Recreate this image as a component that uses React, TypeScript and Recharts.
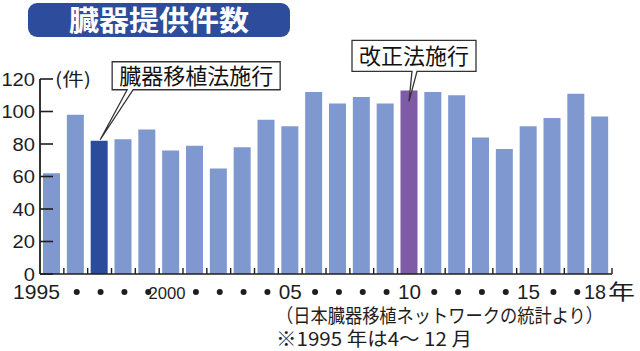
import React from 'react';
import { BarChart, Bar, XAxis, YAxis, Cell, LabelList } from 'recharts';

const years = [
  '1995', '1996', '1997', '1998', '1999', '2000', '2001', '2002', '2003', '2004', '2005', '2006',
  '2007', '2008', '2009', '2010', '2011', '2012', '2013', '2014', '2015', '2016', '2017', '2018',
];
const donations = [62, 98, 82, 83, 89, 76, 79, 65, 78, 95, 91, 112, 105, 109, 105, 113, 112, 110, 84, 77, 91, 96, 111, 97];
const yearLabels = [
  '1995', '•', '•', '•', '•', '2000', '•', '•', '•', '•', '05', '•',
  '•', '•', '•', '10', '•', '•', '•', '•', '15', '•', '•', '18',
];
const yTicks = [0, 20, 40, 60, 80, 100, 120];
const noteYears = ['1997', '2010'];
const noteTexts = ['臓器移植法施行', '改正法施行'];

const title = '臓器提供件数';
const unit = '(件)';
const source = '（日本臓器移植ネットワークの統計より）';
const footnote = '※1995 年は4〜 12 月';

const W = 640;
const H = 351;
const MARGIN = { top: 79, right: 28, bottom: 47, left: 0 };
const Y_W = 40;
const PLOT_W = W - MARGIN.left - MARGIN.right - Y_W;

const BAR = '#7f98cf';
const BAR_97 = '#2b4b9b';
const BAR_10 = '#7f5ba6';
const INK = '#1e1e1e';
const JP = '"Noto Sans CJK JP", "Noto Sans", sans-serif';
const NUM = '"Liberation Sans", Arial, sans-serif';

const rows = years.map((year, i) => ({ year, value: donations[i] }));

const barColor = (year: string) => (year === '1997' ? BAR_97 : year === '2010' ? BAR_10 : BAR);

// callout box geometry relative to bar centre / bar top
const CALLOUT: Record<string, any> = {
  '1997': { dx: 13, dy: -79, w: 168, h: 28, n1: 28, n2: 34, tx: 1, ty: -1 },
  '2010': { dx: -57, dy: -50, w: 124, h: 31, n1: 3, n2: 8, tx: 0, ty: 11 },
};

const YTick = (props: any) => {
  const { x, y, payload } = props;
  const s = String(payload.value);
  return (
    <g>
      <line x1={x + 5} x2={x + 18} y1={y} y2={y} stroke={INK} strokeWidth={1.6} />
      <text
        x={x}
        y={y + 6.5}
        textAnchor="end"
        fontFamily={NUM}
        fontSize={18}
        fill={INK}
        textLength={s.length * 11.2}
        lengthAdjust="spacingAndGlyphs"
      >
        {s}
      </text>
      {payload.value === 120 && (
        <text x={x + 20} y={y + 7} fontFamily={JP} fontSize={18} fill={INK} textLength={36} lengthAdjust="spacingAndGlyphs">
          {unit}
        </text>
      )}
    </g>
  );
};

const XTick = (props: any) => {
  const { x, y, payload } = props;
  const i = years.indexOf(String(payload.value));
  const label = yearLabels[i];
  const bw = PLOT_W / years.length;
  let mark: React.ReactNode = null;
  if (label === '•') {
    mark = <circle cx={x + 1} cy={y + 18} r={3} fill={INK} />;
  } else if (label === '1995') {
    mark = (
      <text x={x + 8} y={y + 25} textAnchor="end" fontFamily={NUM} fontSize={21} fill={INK} textLength={47} lengthAdjust="spacingAndGlyphs">
        {label}
      </text>
    );
  } else if (label === '2000') {
    mark = (
      <text x={x - 4} y={y + 25} textAnchor="middle" fontFamily={NUM} fontSize={17} fill={INK} textLength={37} lengthAdjust="spacingAndGlyphs">
        {label}
      </text>
    );
  } else if (label === '18') {
    mark = (
      <g>
        <text x={x - 5} y={y + 25} textAnchor="middle" fontFamily={NUM} fontSize={21} fill={INK} textLength={22} lengthAdjust="spacingAndGlyphs">
          {label}
        </text>
        <text x={x + 8} y={y + 25} fontFamily={JP} fontSize={21} fill={INK} textLength={27} lengthAdjust="spacingAndGlyphs">
          年
        </text>
      </g>
    );
  } else {
    mark = (
      <text x={x} y={y + 25} textAnchor="middle" fontFamily={NUM} fontSize={21} fill={INK} textLength={23} lengthAdjust="spacingAndGlyphs">
        {label}
      </text>
    );
  }
  return (
    <g>
      <line x1={x + bw / 2} x2={x + bw / 2} y1={y} y2={y - 6} stroke={INK} strokeWidth={1.4} />
      {mark}
    </g>
  );
};

const Callout = (props: any) => {
  const { x, y, width, index } = props;
  const year = years[index];
  const k = noteYears.indexOf(year);
  if (k < 0) return null;
  const c = CALLOUT[year];
  const cx = x + width / 2;
  const bx = cx + c.dx;
  const by = y + c.dy;
  const bottom = by + c.h;
  const d = `M${bx},${by} H${bx + c.w} V${bottom} H${cx + c.n2} L${cx + c.tx},${y + c.ty} L${cx + c.n1},${bottom} H${bx} Z`;
  return (
    <g>
      <path d={d} fill="#fff" stroke="#333" strokeWidth={1.3} strokeLinejoin="miter" />
      <text
        x={bx + c.w / 2}
        y={by + c.h / 2 + 8}
        textAnchor="middle"
        fontFamily={JP}
        fontSize={22}
        fill="#111"
        textLength={c.w - 14}
        lengthAdjust="spacingAndGlyphs"
      >
        {noteTexts[k]}
      </text>
    </g>
  );
};

export default function App() {
  return (
    <div style={{ position: 'absolute', left: 0, top: 0, width: W, height: H, background: '#fff', overflow: 'hidden' }}>
      <div
        style={{
          position: 'absolute',
          left: 28,
          top: 3,
          width: 262,
          height: 34,
          borderRadius: 9,
          background: '#2d4d9c',
        }}
      />
      <BarChart width={W} height={H} data={rows} margin={MARGIN} barSize={17}>
        <YAxis
          domain={[0, 120]}
          ticks={yTicks}
          width={Y_W}
          interval={0}
          axisLine={{ stroke: INK, strokeWidth: 1.8 }}
          tickLine={false}
          tickSize={0}
          tickMargin={5}
          tick={<YTick />}
        />
        <XAxis
          dataKey="year"
          interval={0}
          height={30}
          axisLine={{ stroke: INK, strokeWidth: 1.6 }}
          tickLine={false}
          tickSize={0}
          tickMargin={0}
          tick={<XTick />}
        />
        <Bar dataKey="value" isAnimationActive={false}>
          {rows.map((r) => (
            <Cell key={r.year} fill={barColor(r.year)} />
          ))}
          <LabelList dataKey="value" content={<Callout />} />
        </Bar>
      </BarChart>
      <svg width={W} height={H} style={{ position: 'absolute', left: 0, top: 0, pointerEvents: 'none' }}>
        <text x={159} y={31} textAnchor="middle" fontFamily={JP} fontWeight={700} fontSize={28} fill="#fff" textLength={180} lengthAdjust="spacingAndGlyphs">
          {title}
        </text>
        <text x={276} y={323} fontFamily={JP} fontSize={19} fill={INK} textLength={327} lengthAdjust="spacingAndGlyphs">
          {source}
        </text>
        <text x={276} y={346} fontFamily={JP} fontSize={19} fill={INK} textLength={196} lengthAdjust="spacingAndGlyphs">
          {footnote}
        </text>
      </svg>
    </div>
  );
}
